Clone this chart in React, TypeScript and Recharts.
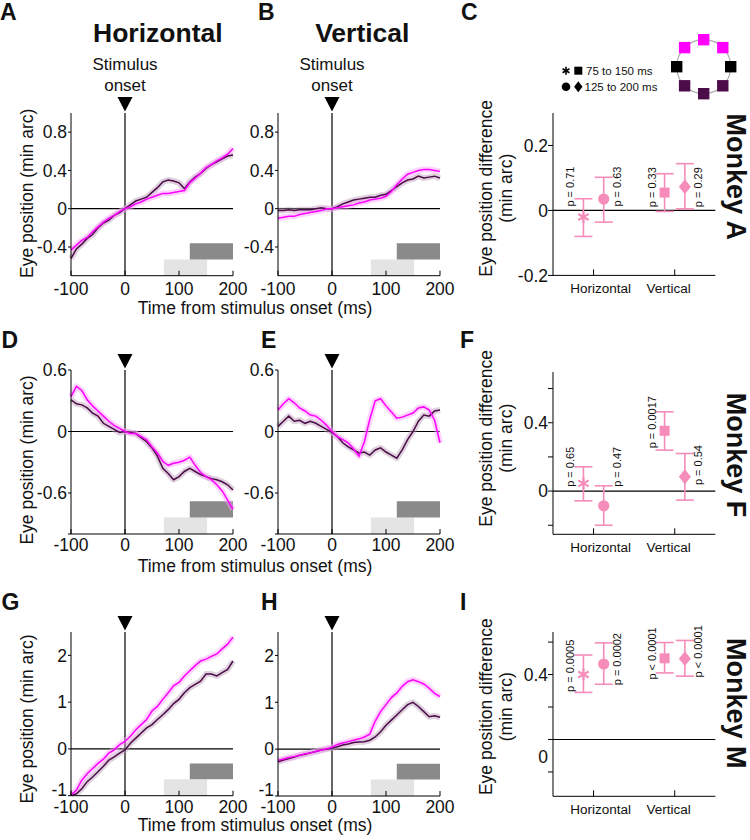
import React from 'react';
import {
  LineChart,
  Line,
  XAxis,
  YAxis,
  ReferenceLine,
  ReferenceArea,
  ReferenceDot,
  ScatterChart,
  Scatter,
  ErrorBar,
} from 'recharts';

const FONT = '"Liberation Sans", Arial, Helvetica, sans-serif';
const MAGENTA = '#ff00ff';
const PURPLE = '#4b0c48';
const PINK = '#f58cba';
const INK = '#111';
const TICK_FS = 17.5;

// time base of the traces (ms from stimulus onset)
const TIME_MS = [-100, -90, -80, -70, -60, -50, -40, -30, -20, -10, 0, 10, 20, 30, 40, 50, 60, 70, 80, 90, 100, 110, 120, 130, 140, 150, 160, 170, 180, 190, 200];
const X_TICKS = [-100, 0, 100, 200];
const LIGHT_WIN = [72, 152];
const DARK_WIN = [120, 200];

// Monkey A
const A_HOR_MAG = [-0.43, -0.38, -0.33, -0.30, -0.24, -0.19, -0.14, -0.10, -0.07, -0.03, 0.00, 0.02, 0.05, 0.07, 0.10, 0.12, 0.14, 0.16, 0.16, 0.17, 0.18, 0.19, 0.27, 0.32, 0.37, 0.43, 0.46, 0.50, 0.53, 0.57, 0.63];
const A_HOR_PUR = [-0.52, -0.42, -0.37, -0.31, -0.27, -0.20, -0.15, -0.12, -0.07, -0.04, 0.00, 0.04, 0.08, 0.10, 0.12, 0.17, 0.22, 0.28, 0.30, 0.29, 0.27, 0.21, 0.28, 0.33, 0.37, 0.42, 0.46, 0.49, 0.52, 0.55, 0.56];
const A_VER_MAG = [-0.10, -0.09, -0.08, -0.08, -0.06, -0.05, -0.04, -0.03, -0.02, 0.00, 0.00, 0.01, 0.02, 0.03, 0.04, 0.06, 0.07, 0.09, 0.10, 0.11, 0.13, 0.18, 0.25, 0.31, 0.36, 0.38, 0.40, 0.41, 0.41, 0.40, 0.39];
const A_VER_PUR = [-0.02, -0.02, -0.01, -0.02, -0.01, -0.01, -0.01, 0.00, 0.01, 0.00, 0.00, 0.02, 0.05, 0.07, 0.09, 0.10, 0.11, 0.12, 0.12, 0.14, 0.15, 0.19, 0.23, 0.27, 0.30, 0.31, 0.34, 0.32, 0.33, 0.34, 0.32];

// Monkey F
const F_HOR_MAG = [0.34, 0.44, 0.40, 0.31, 0.25, 0.20, 0.15, 0.10, 0.06, 0.03, 0.00, -0.02, -0.02, -0.05, -0.08, -0.15, -0.21, -0.29, -0.33, -0.31, -0.30, -0.28, -0.25, -0.33, -0.40, -0.44, -0.47, -0.52, -0.58, -0.67, -0.76];
const F_HOR_PUR = [0.31, 0.27, 0.26, 0.23, 0.18, 0.15, 0.08, 0.05, 0.02, -0.01, 0.00, -0.01, -0.02, -0.06, -0.10, -0.16, -0.24, -0.36, -0.41, -0.47, -0.44, -0.39, -0.36, -0.39, -0.42, -0.44, -0.46, -0.47, -0.49, -0.52, -0.57];
const F_VER_MAG = [0.21, 0.27, 0.32, 0.28, 0.23, 0.20, 0.16, 0.15, 0.11, 0.06, 0.00, -0.05, -0.08, -0.11, -0.17, -0.24, -0.10, 0.12, 0.30, 0.32, 0.25, 0.19, 0.13, 0.14, 0.16, 0.18, 0.23, 0.24, 0.21, 0.11, -0.11];
const F_VER_PUR = [0.05, 0.10, 0.15, 0.10, 0.11, 0.08, 0.10, 0.08, 0.05, 0.02, -0.01, -0.05, -0.11, -0.15, -0.18, -0.21, -0.20, -0.23, -0.18, -0.16, -0.20, -0.23, -0.26, -0.18, -0.08, 0.00, 0.10, 0.16, 0.15, 0.20, 0.21];

// Monkey M
const M_HOR_MAG = [-0.99, -0.88, -0.67, -0.53, -0.42, -0.31, -0.22, -0.09, -0.02, 0.09, 0.16, 0.27, 0.41, 0.52, 0.63, 0.81, 0.91, 1.06, 1.20, 1.35, 1.42, 1.56, 1.67, 1.78, 1.88, 1.92, 1.98, 2.03, 2.14, 2.24, 2.39];
const M_HOR_PUR = [-1.00, -0.96, -0.85, -0.70, -0.60, -0.49, -0.37, -0.24, -0.17, -0.09, -0.02, 0.12, 0.23, 0.34, 0.45, 0.52, 0.63, 0.73, 0.84, 0.97, 1.06, 1.20, 1.31, 1.38, 1.45, 1.60, 1.60, 1.56, 1.63, 1.70, 1.88];
const M_VER_MAG = [-0.24, -0.21, -0.18, -0.16, -0.13, -0.10, -0.08, -0.05, -0.02, 0.01, 0.04, 0.10, 0.13, 0.16, 0.19, 0.22, 0.26, 0.32, 0.60, 0.80, 0.95, 1.10, 1.20, 1.34, 1.44, 1.48, 1.44, 1.39, 1.30, 1.19, 1.12];
const M_VER_PUR = [-0.27, -0.23, -0.20, -0.17, -0.13, -0.11, -0.08, -0.05, -0.02, 0.00, 0.02, 0.05, 0.09, 0.11, 0.14, 0.15, 0.16, 0.19, 0.26, 0.37, 0.51, 0.62, 0.73, 0.84, 0.95, 1.00, 0.91, 0.80, 0.69, 0.71, 0.68];

// difference panels: order = 75-150 hor, 125-200 hor, 75-150 ver, 125-200 ver
const CATEGORIES = ['Horizontal', 'Vertical'];
const CAT_POS = [1, 3];
const MARK_POS = [0.75, 1.25, 2.75, 3.25];

const A_DIFF = [-0.02, 0.035, 0.055, 0.073];
const A_LO = [-0.08, -0.036, -0.003, 0.005];
const A_HI = [0.036, 0.102, 0.113, 0.144];
const A_P = ['p = 0.71', 'p = 0.63', 'p = 0.33', 'p = 0.29'];

const F_DIFF = [0.045, -0.086, 0.353, 0.084];
const F_LO = [-0.057, -0.2, 0.24, -0.053];
const F_HI = [0.142, 0.031, 0.464, 0.22];
const F_P = ['p = 0.65', 'p = 0.47', 'p = 0.0017', 'p = 0.54'];

const M_DIFF = [0.40, 0.465, 0.50, 0.498];
const M_LO = [0.29, 0.34, 0.41, 0.39];
const M_HI = [0.52, 0.595, 0.597, 0.61];
const M_P = ['p = 0.0005', 'p = 0.0002', 'p < 0.0001', 'p < 0.0001'];

const LEGEND_ROWS = ['75 to 150 ms', '125 to 200 ms'];

// ---------- shapes ----------
const asterisk = (cx: number, cy: number, r: number, color: string, sw: number) => (
  <g>
    {[90, 30, 150].map((a) => {
      const rad = (a * Math.PI) / 180;
      const dx = r * Math.cos(rad);
      const dy = r * Math.sin(rad);
      return <line key={a} x1={cx - dx} y1={cy - dy} x2={cx + dx} y2={cy + dy} stroke={color} strokeWidth={sw} />;
    })}
  </g>
);
const diamond = (cx: number, cy: number, hw: number, hh: number, color: string) => (
  <path d={`M${cx},${cy - hh} L${cx + hw},${cy} L${cx},${cy + hh} L${cx - hw},${cy} Z`} fill={color} />
);

const MARKERS = [
  (p: any) => asterisk(p.cx, p.cy, 6, PINK, 2.2),
  (p: any) => <circle cx={p.cx} cy={p.cy} r={5.6} fill={PINK} />,
  (p: any) => <rect x={p.cx - 5} y={p.cy - 5} width={10} height={10} fill={PINK} />,
  (p: any) => diamond(p.cx, p.cy, 6, 7.5, PINK),
];

const pLabel = (p: any) => {
  const d = p.payload || p;
  const x = p.cx + d.dx;
  return (
    <text
      x={x}
      y={p.cy}
      transform={`rotate(-90 ${x} ${p.cy})`}
      textAnchor="start"
      dominantBaseline="central"
      fontSize={11}
      fontFamily={FONT}
      fill={INK}
    >
      {d.text}
    </text>
  );
};

const triangle = (p: any) => (
  <path d={`M${p.cx - 7.5},${p.cy - 16} L${p.cx + 7.5},${p.cy - 16} L${p.cx},${p.cy - 1.5} Z`} fill="#000" />
);

const yTick = (labels: number[], shift: Record<string, number> = {}) => (props: any) => {
  const { x, y, payload } = props;
  const v = payload.value;
  if (!labels.includes(v)) return <g />;
  return (
    <text x={x} y={y + (shift[String(v)] || 0)} dy="0.36em" textAnchor="end" fontSize={TICK_FS} fontFamily={FONT} fill={INK}>
      {String(v)}
    </text>
  );
};

const catTick = (props: any) => {
  const { x, y, payload } = props;
  const i = CAT_POS.indexOf(payload.value);
  return (
    <text x={x + (i === 0 ? 7 : -6)} y={y} dy="0.71em" textAnchor="middle" fontSize={13.5} fontFamily={FONT} fill={INK}>
      {CATEGORIES[i]}
    </text>
  );
};

// ---------- time course panel ----------
const PLOT_W = 162;
const T_YW = 50;
const T_MT = 20;
const T_MR = 26;
const T_XH = 30;

type TimeProps = {
  left: number;
  top: number;
  h: number;
  yDomain: [number, number];
  yTicks: number[];
  yLabels: number[];
  shift?: Record<string, number>;
  mag: number[];
  pur: number[];
  dark: [number, number];
  light: [number, number];
  xGap: number;
};

function TimePanel(p: TimeProps) {
  const rows = TIME_MS.map((t, i) => ({ t, mag: p.mag[i], pur: p.pur[i] }));
  return (
    <div style={{ position: 'absolute', left: p.left - T_YW, top: p.top - T_MT }}>
      <LineChart
        width={T_YW + PLOT_W + T_MR}
        height={T_MT + p.h + T_XH}
        data={rows}
        margin={{ top: T_MT, right: T_MR, bottom: 0, left: 0 }}
      >
        <ReferenceArea x1={LIGHT_WIN[0]} x2={LIGHT_WIN[1]} y1={p.light[0]} y2={p.light[1]} fill="#e4e4e4" fillOpacity={1} stroke="none" ifOverflow="visible" />
        <ReferenceArea x1={DARK_WIN[0]} x2={DARK_WIN[1]} y1={p.dark[0]} y2={p.dark[1]} fill="#8a8a8a" fillOpacity={1} stroke="none" ifOverflow="visible" />
        <XAxis
          dataKey="t"
          type="number"
          domain={[-100, 200]}
          ticks={X_TICKS}
          interval={0}
          height={T_XH}
          tickSize={-5}
          tickMargin={5 + p.xGap}
          stroke="#000"
          tick={{ fill: INK, fontSize: TICK_FS, fontFamily: FONT }}
        />
        <YAxis
          type="number"
          domain={p.yDomain}
          ticks={p.yTicks}
          interval={0}
          width={T_YW}
          allowDataOverflow
          tickSize={3}
          tickMargin={1}
          stroke="#000"
          tick={yTick(p.yLabels, p.shift)}
        />
        <ReferenceLine y={0} stroke="#000" strokeWidth={1.2} />
        <ReferenceLine x={0} stroke="#000" strokeWidth={1.2} />
        <Line dataKey="pur" type="linear" stroke="#b89bb6" strokeOpacity={0.45} strokeWidth={6} strokeLinejoin="round" dot={false} activeDot={false} isAnimationActive={false} />
        <Line dataKey="mag" type="linear" stroke="#ff9cff" strokeOpacity={0.45} strokeWidth={6} strokeLinejoin="round" dot={false} activeDot={false} isAnimationActive={false} />
        <Line dataKey="pur" type="linear" stroke={PURPLE} strokeWidth={1.5} dot={false} activeDot={false} isAnimationActive={false} />
        <Line dataKey="mag" type="linear" stroke={MAGENTA} strokeWidth={1.5} dot={false} activeDot={false} isAnimationActive={false} />
        <ReferenceDot x={0} y={p.yDomain[1]} r={0} shape={triangle} ifOverflow="visible" />
      </LineChart>
    </div>
  );
}

// ---------- difference panel ----------
const S_W = 162.3;
const S_YW = 50;
const S_MT = 16;
const S_MR = 10;
const S_XH = 30;

type DiffProps = {
  left: number;
  top: number;
  h: number;
  yDomain: [number, number];
  yTicks: number[];
  yLabels: number[];
  shift?: Record<string, number>;
  diff: number[];
  lo: number[];
  hi: number[];
  pText: string[];
  pBase: number[];
};

function DiffPanel(p: DiffProps) {
  const rows = MARK_POS.map((x, i) => ({ x, y: p.diff[i], err: [p.diff[i] - p.lo[i], p.hi[i] - p.diff[i]] }));
  const labels = MARK_POS.map((x, i) => ({ x, y: p.pBase[i], text: p.pText[i], dx: i % 2 === 0 ? -13 : 13 }));
  return (
    <div style={{ position: 'absolute', left: p.left - S_YW, top: p.top - S_MT }}>
      <ScatterChart
        width={S_YW + S_W + S_MR}
        height={S_MT + p.h + S_XH}
        margin={{ top: S_MT, right: S_MR, bottom: 0, left: 0 }}
      >
        <XAxis
          dataKey="x"
          type="number"
          domain={[0, 4]}
          ticks={CAT_POS}
          interval={0}
          height={S_XH}
          tickSize={-6}
          tickMargin={14}
          stroke="#000"
          tick={catTick}
        />
        <YAxis
          dataKey="y"
          type="number"
          domain={p.yDomain}
          ticks={p.yTicks}
          interval={0}
          width={S_YW}
          tickSize={5}
          tickMargin={0}
          stroke="#000"
          tick={yTick(p.yLabels, p.shift)}
        />
        <ReferenceLine y={0} stroke="#000" strokeWidth={1.2} />
        {rows.map((r, i) => (
          <Scatter key={i} data={[r]} shape={MARKERS[i]} isAnimationActive={false}>
            <ErrorBar dataKey="err" direction="y" width={9} stroke={PINK} strokeWidth={1.6} />
          </Scatter>
        ))}
        <Scatter data={labels} shape={pLabel} isAnimationActive={false} />
      </ScatterChart>
    </div>
  );
}

// ---------- overlay (labels, legend, target icon) ----------
const T = (props: any) => <text fontFamily={FONT} fill={INK} {...props} />;

function Overlay() {
  const letters: [string, number, number][] = [
    ['A', 0, 19.5], ['B', 258, 19.5], ['C', 461, 19.5],
    ['D', 1.5, 348.3], ['E', 261, 348.3], ['F', 460, 348.3],
    ['G', 1.5, 610], ['H', 261, 610], ['I', 460, 610],
  ];
  const iconCx = 703.7;
  const iconCy = 66.7;
  const iconR = 27;
  const iconCols = [
    { a: -90, c: MAGENTA }, { a: -45, c: MAGENTA }, { a: -135, c: MAGENTA },
    { a: 0, c: '#000' }, { a: 180, c: '#000' },
    { a: 45, c: PURPLE }, { a: 90, c: PURPLE }, { a: 135, c: PURPLE },
  ];
  return (
    <svg width={750} height={840} style={{ position: 'absolute', left: 0, top: 0, pointerEvents: 'none' }}>
      {letters.map(([l, x, y]) => (
        <T key={l} x={x} y={y} fontSize={23} fontWeight="bold">{l}</T>
      ))}
      <T x={157.8} y={42} fontSize={26.5} fontWeight="bold" textAnchor="middle">Horizontal</T>
      <T x={362.3} y={42} fontSize={26.5} fontWeight="bold" textAnchor="middle">Vertical</T>
      {[125, 332].map((x) => (
        <g key={x}>
          <T x={x} y={70} fontSize={17} textAnchor="middle">Stimulus</T>
          <T x={x} y={90.7} fontSize={17} textAnchor="middle">onset</T>
        </g>
      ))}
      {[193.3, 460, 719].map((cy) => (
        <T key={cy} x={33} y={cy} fontSize={17.5} textAnchor="middle" transform={`rotate(-90 33 ${cy})`}>
          Eye position (min arc)
        </T>
      ))}
      {[314, 572, 831].map((y) => (
        <T key={y} x={255} y={y} fontSize={17.5} textAnchor="middle">Time from stimulus onset (ms)</T>
      ))}
      {[188.3, 438.3, 706.7].map((cy) => (
        <g key={cy}>
          <T x={492.5} y={cy} fontSize={17.5} textAnchor="middle" transform={`rotate(-90 492.5 ${cy})`}>
            Eye position difference
          </T>
          <T x={512} y={cy} fontSize={17.5} textAnchor="middle" transform={`rotate(-90 512 ${cy})`}>
            (min arc)
          </T>
        </g>
      ))}
      {([['Monkey A', 176.7], ['Monkey F', 455], ['Monkey M', 703.3]] as [string, number][]).map(([s, cy]) => (
        <T key={s} x={726.5} y={cy} fontSize={27} fontWeight="bold" textAnchor="middle" transform={`rotate(90 726.5 ${cy})`}>
          {s}
        </T>
      ))}
      {/* legend */}
      {asterisk(566, 70.7, 4, '#000', 1.6)}
      <rect x={574.3} y={66.7} width={8} height={8} fill="#000" />
      <T x={586} y={75} fontSize={11.5}>{LEGEND_ROWS[0]}</T>
      <circle cx={566} cy={86.7} r={4.3} fill="#000" />
      {diamond(578.3, 86.7, 4.2, 5.5, '#000')}
      <T x={584.5} y={90.7} fontSize={11.5}>{LEGEND_ROWS[1]}</T>
      {/* target layout icon */}
      <circle cx={iconCx} cy={iconCy} r={iconR} fill="none" stroke="#aaa" strokeWidth={1.2} />
      {iconCols.map(({ a, c }) => {
        const rad = (a * Math.PI) / 180;
        const x = iconCx + iconR * Math.cos(rad);
        const y = iconCy + iconR * Math.sin(rad);
        return <rect key={a} x={x - 5.7} y={y - 5.7} width={11.4} height={11.4} fill={c} />;
      })}
    </svg>
  );
}

export default function App() {
  return (
    <div style={{ position: 'absolute', left: 0, top: 0, width: 750, height: 840, background: '#fff', fontFamily: FONT }}>
      <TimePanel left={70.7} top={113} h={162.7} yDomain={[-0.7, 1.0]} yTicks={[-0.4, 0, 0.4, 0.8]} yLabels={[-0.4, 0, 0.4, 0.8]}
        mag={A_HOR_MAG} pur={A_HOR_PUR} dark={[-0.36, -0.53]} light={[-0.53, -0.7]} xGap={6.5} />
      <TimePanel left={277.7} top={113} h={162.7} yDomain={[-0.7, 1.0]} yTicks={[-0.4, 0, 0.4, 0.8]} yLabels={[-0.4, 0, 0.4, 0.8]}
        mag={A_VER_MAG} pur={A_VER_PUR} dark={[-0.36, -0.53]} light={[-0.53, -0.7]} xGap={6.5} />
      <TimePanel left={70.7} top={370} h={164} yDomain={[-1.0, 0.6]} yTicks={[-1, -0.6, 0, 0.6]} yLabels={[-0.6, 0, 0.6]}
        mag={F_HOR_MAG} pur={F_HOR_PUR} dark={[-0.68, -0.84]} light={[-0.84, -1.0]} xGap={4.5} />
      <TimePanel left={277.7} top={370} h={164} yDomain={[-1.0, 0.6]} yTicks={[-1, -0.6, 0, 0.6]} yLabels={[-0.6, 0, 0.6]}
        mag={F_VER_MAG} pur={F_VER_PUR} dark={[-0.68, -0.84]} light={[-0.84, -1.0]} xGap={4.5} />
      <TimePanel left={70.7} top={632.3} h={163.7} yDomain={[-1, 2.5]} yTicks={[-1, 0, 1, 2]} yLabels={[-1, 0, 1, 2]}
        shift={{ '-1': -6 }} mag={M_HOR_MAG} pur={M_HOR_PUR} dark={[-0.31, -0.65]} light={[-0.65, -1]} xGap={4.5} />
      <TimePanel left={277.7} top={632} h={164} yDomain={[-1, 2.5]} yTicks={[-1, 0, 1, 2]} yLabels={[-1, 0, 1, 2]}
        shift={{ '-1': -6 }} mag={M_VER_MAG} pur={M_VER_PUR} dark={[-0.31, -0.65]} light={[-0.65, -1]} xGap={4.5} />

      <DiffPanel left={552.7} top={113.3} h={162.4} yDomain={[-0.2, 0.3]} yTicks={[-0.2, 0, 0.2]} yLabels={[-0.2, 0, 0.2]}
        diff={A_DIFF} lo={A_LO} hi={A_HI} pText={A_P} pBase={[0.012, 0.012, 0.01, 0.01]} />
      <DiffPanel left={552.7} top={371.7} h={162.3} yDomain={[-0.253, 0.697]} yTicks={[-0.2, 0, 0.2, 0.4, 0.6]} yLabels={[0, 0.4]}
        diff={F_DIFF} lo={F_LO} hi={F_HI} pText={F_P} pBase={[0.025, 0.025, 0.25, 0.035]} />
      <DiffPanel left={552.7} top={631.7} h={164.3} yDomain={[-0.35, 0.662]} yTicks={[-0.2, 0, 0.2, 0.4, 0.6]} yLabels={[0, 0.4]}
        shift={{ '0': 17 }} diff={M_DIFF} lo={M_LO} hi={M_HI} pText={M_P} pBase={[0.293, 0.334, 0.369, 0.382]} />

      <Overlay />
    </div>
  );
}
